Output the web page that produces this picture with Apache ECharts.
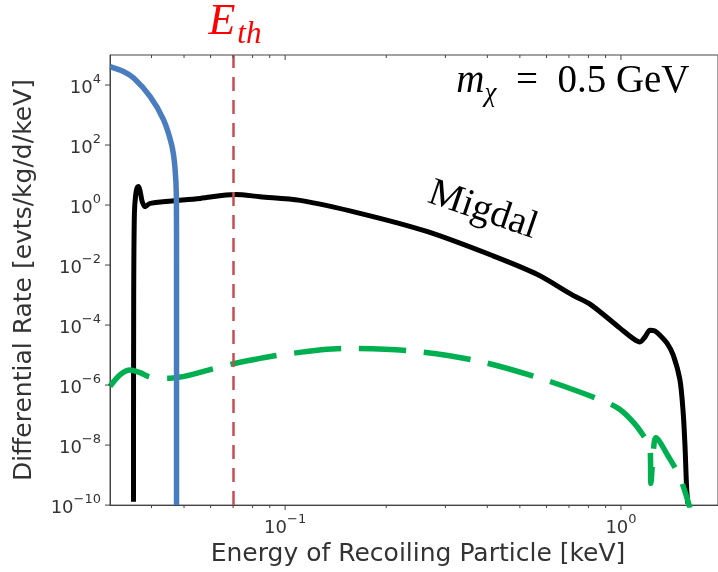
<!DOCTYPE html>
<html><head><meta charset="utf-8">
<script src="https://cdn.jsdelivr.net/npm/echarts@6/dist/echarts.min.js"></script>
<style>html,body{margin:0;padding:0;background:#fff}#c{width:718px;height:572px}</style>
</head><body><div id="c"></div>
<script>
// ---- axis ranges & ticks ----
const xMin = 0.0301, xMax = 1.945;
const yMin = 1e-10, yMax = 1e5;
const xTickExps = [-1, 0];
const xMinorTicks = [0.04, 0.05, 0.06, 0.07, 0.08, 0.09, 0.2, 0.3, 0.4, 0.5, 0.6, 0.7, 0.8, 0.9];
const yTickExps = [-10, -8, -6, -4, -2, 0, 2, 4];
const threshold = 0.0709; // E_th [keV]

// ---- series values [energy keV, rate evts/kg/d/keV] ----
const nuclearRecoil = [
  [0.0301, 4.1e4], [0.0330, 2.8e4], [0.0354, 1.7e4], [0.0396, 4.2e3], [0.0434, 7.2e2],
  [0.0460, 95], [0.0470, 17], [0.04745, 1.8], [0.0475, 0.01], [0.0475, 1e-10]
];
const migdal = [
  [0.03536, 1.3e-10], [0.03541, 8.4e-4], [0.03558, 0.53], [0.0359, 2.23], [0.03626, 3.82],
  [0.03659, 4.12], [0.03702, 2.82], [0.03753, 1.32], [0.03831, 0.88], [0.03964, 1.135],
  [0.05585, 1.66], [0.0710, 2.25], [0.0842, 1.89], [0.1108, 1.43], [0.1671, 0.53],
  [0.2641, 0.132], [0.4159, 0.0203], [0.5623, 4.92e-3], [0.7198, 9.8e-4], [0.8087, 5.0e-4],
  [0.9931, 7.9e-5], [1.088, 3.54e-5], [1.139, 2.75e-5], [1.179, 4.0e-5], [1.22, 6.7e-5],
  [1.262, 6.3e-5], [1.306, 4.6e-5], [1.371, 2.5e-5], [1.431, 1.0e-5], [1.498, 1.5e-6],
  [1.532, 1.2e-7], [1.551, 9.5e-9], [1.569, 3.5e-10], [1.583, 1.1e-10]
];
const migdalGreen = [
  [0.0301, 9.0e-7], [0.03228, 2.24e-6], [0.03458, 3.2e-6], [0.03702, 2.6e-6], [0.03964, 1.83e-6],
  [0.04548, 1.69e-6], [0.06188, 3.6e-6], [0.0710, 5.3e-6], [0.09663, 1.0e-5], [0.1509, 1.66e-5],
  [0.2355, 1.39e-5], [0.3719, 6.5e-6], [0.5741, 1.69e-6], [0.8762, 3.1e-7], [0.9931, 1.54e-7],
  [1.101, 5.0e-8], [1.179, 1.74e-8], [1.22, 9.5e-9], [1.228, 5.3e-10], [1.245, 3.8e-9],
  [1.271, 1.74e-8], [1.380, 4.4e-9], [1.498, 8.4e-10], [1.605, 8e-11]
];

// ---- annotation anchors (data coords) ----
const migdalLabelAt = [0.388, 0.667];
const massLabelAt = [0.7194, 8170];

const AX = '#444', TXT = '#333';
function powLabel(v, exps) {
  const l = Math.log10(v), e = Math.round(l);
  if (Math.abs(l - e) > 1e-6 || exps.indexOf(e) < 0) return '';
  return '{b|10}{e|' + (e < 0 ? '\u2212' + (-e) : String(e)) + '}';
}
const richTick = {
  b: { fontSize: 18, lineHeight: 24, verticalAlign: 'bottom', color: TXT, fontFamily: 'DejaVu Sans' },
  e: { fontSize: 13, lineHeight: 14, verticalAlign: 'top', color: TXT, fontFamily: 'DejaVu Sans' }
};

const xTickData = xTickExps.map(e => [Math.pow(10, e), yMin, 1]).concat(xMinorTicks.map(v => [v, yMin, 0]));
const yTickData = yTickExps.map(e => [xMin, Math.pow(10, e)]);

const chart = echarts.init(document.getElementById('c'));
chart.setOption({
  animation: false,
  backgroundColor: '#fff',
  grid: { left: 110, top: 55, right: 0, bottom: 62, show: true, borderColor: AX, borderWidth: 1, backgroundColor: 'transparent' },
  xAxis: {
    type: 'log', logBase: 10, min: xMin, max: xMax,
    name: 'Energy of Recoiling Particle [keV]', nameLocation: 'middle', nameGap: 35,
    nameTextStyle: { fontSize: 25, color: TXT, fontFamily: 'DejaVu Sans', padding: [0, 0, 0, 8] },
    axisLine: { show: true, lineStyle: { color: AX, width: 1 } },
    axisTick: { show: false }, splitLine: { show: false },
    axisLabel: { margin: 8, formatter: v => powLabel(v, xTickExps), rich: richTick, showMinLabel: false, showMaxLabel: false }
  },
  yAxis: {
    type: 'log', logBase: 10, min: yMin, max: yMax, interval: 2,
    name: 'Differential Rate [evts/kg/d/keV]', nameLocation: 'middle', nameGap: 73,
    nameTextStyle: { fontSize: 25, color: TXT, fontFamily: 'DejaVu Sans' },
    axisLine: { show: true, lineStyle: { color: AX, width: 1 } },
    axisTick: { show: false }, splitLine: { show: false },
    axisLabel: { margin: 9, formatter: v => powLabel(v, yTickExps), rich: richTick }
  },
  series: [
    {
      type: 'line', data: migdal, showSymbol: false, symbol: 'none', z: 2,
      smooth: 0.3,
      lineStyle: { color: '#000', width: 5, cap: 'butt', join: 'round' }
    },
    {
      type: 'line', data: migdalGreen, showSymbol: false, symbol: 'none', z: 3,
      smooth: 0.3,
      lineStyle: { color: '#00b050', width: 5.5, type: [47, 18], cap: 'butt', join: 'round' }
    },
    {
      type: 'line', data: nuclearRecoil, showSymbol: false, symbol: 'none', z: 4,
      smooth: 0.3,
      lineStyle: { color: '#4a7dbf', width: 5.5, cap: 'butt', join: 'round' }
    },
    {
      type: 'line', data: [], z: 10, silent: true,
      markLine: {
        silent: true, symbol: 'none', animation: false,
        label: { show: false },
        lineStyle: { color: '#c44e52', width: 2.5, type: [14, 9] },
        data: [{ xAxis: threshold }]
      }
    },
    {
      type: 'custom', data: xTickData, encode: { x: 0, y: 1 }, clip: false, silent: true, z: 11,
      renderItem: function (params, api) {
        const v = api.value(0), major = api.value(2);
        const pb = api.coord([v, yMin]), pt = api.coord([v, yMax]);
        const L = major ? 5 : 3;
        const st = { stroke: AX, lineWidth: 1 };
        return { type: 'group', children: [
          { type: 'line', shape: { x1: pb[0], y1: pb[1], x2: pb[0], y2: pb[1] + L }, style: st },
          { type: 'line', shape: { x1: pt[0], y1: pt[1], x2: pt[0], y2: pt[1] + L }, style: st }
        ] };
      }
    },
    {
      type: 'custom', data: yTickData, encode: { x: 0, y: 1 }, clip: false, silent: true, z: 11,
      renderItem: function (params, api) {
        const p = api.coord([api.value(0), api.value(1)]);
        return { type: 'line', shape: { x1: p[0] - 5, y1: p[1], x2: p[0], y2: p[1] }, style: { stroke: AX, lineWidth: 1 } };
      }
    }
  ]
});

// annotations placed from data coordinates
const topPx = chart.convertToPixel({ gridIndex: 0 }, [threshold, yMax]);
const migPx = chart.convertToPixel({ gridIndex: 0 }, migdalLabelAt);
const masPx = chart.convertToPixel({ gridIndex: 0 }, massLabelAt);
const SERIF = 'Liberation Serif';
chart.setOption({
  graphic: [
    {
      type: 'text', x: topPx[0], y: topPx[1] - 5, silent: true,
      style: {
        text: '{E|E}{t|th}', align: 'center', verticalAlign: 'bottom',
        rich: {
          E: { fontSize: 44, fontStyle: 'italic', fontFamily: SERIF, fill: '#ff0000', lineHeight: 44, padding: [0, 2, 6, 0], verticalAlign: 'bottom' },
          t: { fontSize: 31, fontStyle: 'italic', fontFamily: SERIF, fill: '#ff0000', lineHeight: 31, verticalAlign: 'bottom' }
        }
      }
    },
    {
      type: 'text', x: migPx[0], y: migPx[1], rotation: -0.33, silent: true,
      style: { text: 'Migdal', fontSize: 39, fontFamily: SERIF, fill: '#000', align: 'center', verticalAlign: 'middle' }
    },
    {
      type: 'text', x: masPx[0], y: masPx[1], silent: true,
      style: {
        text: '{m|m}{c|\u03c7}{r|\u2002=\u20020.5 GeV}', align: 'center', verticalAlign: 'middle',
        rich: {
          m: { fontSize: 39, fontStyle: 'italic', fontFamily: SERIF, fill: '#000', lineHeight: 39, padding: [0, 0, 6, 0], verticalAlign: 'bottom' },
          c: { fontSize: 27, fontStyle: 'italic', fontFamily: SERIF, fill: '#000', lineHeight: 27, verticalAlign: 'bottom' },
          r: { fontSize: 39, fontFamily: SERIF, fill: '#000', lineHeight: 39, padding: [0, 0, 6, 0], verticalAlign: 'bottom' }
        }
      }
    }
  ]
});
</script>
</body></html>
